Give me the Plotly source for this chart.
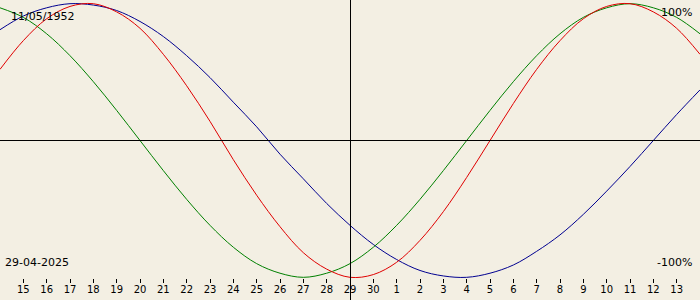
import plotly.graph_objects as go

# day offsets relative to 29-04-2025 (centre line)
days = list(range(-15, 16))
tick_vals = list(range(-14, 15))
tick_labels = ["15", "16", "17", "18", "19", "20", "21", "22", "23", "24", "25", "26", "27", "28",
               "29", "30", "1", "2", "3", "4", "5", "6", "7", "8", "9", "10", "11", "12", "13"]

# values in %
physical = [52, 73, 89, 98, 100, 94, 82, 63, 40, 14, -14, -40, -63, -82, -94, -100,
            -98, -89, -73, -52, -27, 0, 27, 52, 73, 89, 98, 100, 94, 82, 63]
emotional = [97, 90, 78, 62, 43, 22, 0, -22, -43, -62, -78, -90, -97, -100, -97, -90,
             -78, -62, -43, -22, 0, 22, 43, 62, 78, 90, 97, 100, 97, 90, 78]
intellectual = [81, 91, 97, 100, 99, 95, 87, 76, 62, 46, 28, 10, -10, -28, -46, -62,
                -76, -87, -95, -99, -100, -97, -91, -81, -69, -54, -37, -19, 0, 19, 37]

bg = "#F3EFE3"
fig = go.Figure()
for vals, col in [(intellectual, "#000090"), (emotional, "#008000"), (physical, "#E00000")]:
    fig.add_trace(go.Scatter(x=days, y=vals, mode="lines",
                             line=dict(color=col, width=1, shape="spline", smoothing=1),
                             hoverinfo="skip", showlegend=False))

fig.add_shape(type="line", xref="paper", yref="paper", x0=0, x1=1,
              y0=1 - 140.5/300, y1=1 - 140.5/300, line=dict(color="black", width=1))
fig.add_shape(type="line", xref="paper", yref="paper", x0=350.5/700, x1=350.5/700,
              y0=0, y1=1, line=dict(color="black", width=1))

font_txt = dict(family="DejaVu Sans", size=11, color="black")
fig.add_annotation(text="11/05/1952", xref="paper", yref="paper", x=9/700, y=1-17/300,
                   xanchor="left", yanchor="middle", showarrow=False, font=font_txt)
fig.add_annotation(text="29-04-2025", xref="paper", yref="paper", x=3/700, y=1-262/300,
                   xanchor="left", yanchor="middle", showarrow=False, font=font_txt)
fig.add_annotation(text="100%", xref="paper", yref="paper", x=694/700, y=1-12/300,
                   xanchor="right", yanchor="middle", showarrow=False, font=font_txt)
fig.add_annotation(text="-100%", xref="paper", yref="paper", x=694/700, y=1-262/300,
                   xanchor="right", yanchor="middle", showarrow=False, font=font_txt)

fig.update_layout(
    width=700, height=300, margin=dict(l=0, r=0, t=0, b=0),
    paper_bgcolor=bg, plot_bgcolor=bg,
    xaxis=dict(range=[-15, 15], tickvals=tick_vals, ticktext=tick_labels,
               ticks="outside", ticklen=4, tickwidth=1, tickcolor="black",
               ticklabelstandoff=-2,
               showgrid=False, zeroline=False, showline=False,
               tickfont=dict(family="DejaVu Sans", size=10, color="black")),
    yaxis=dict(range=[-100.5, 102.7], domain=[22/300, 1], visible=False,
               showgrid=False, zeroline=False),
)
fig.write_html("out.html")
